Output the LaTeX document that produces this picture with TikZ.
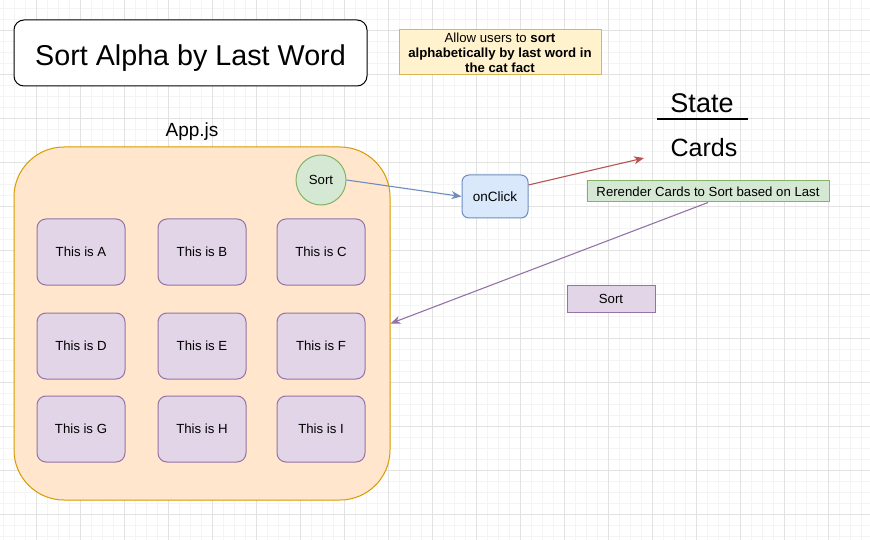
\documentclass[tikz,border=0pt]{standalone}
\usepackage{fontspec}
\setmainfont{Liberation Sans}
\usetikzlibrary{arrows.meta}
\definecolor{gmajor}{HTML}{E2E2E2}
\definecolor{gminor}{HTML}{F4F4F4}
\definecolor{noteFill}{HTML}{FFF2CC}
\definecolor{noteLine}{HTML}{D6B656}
\definecolor{orFill}{HTML}{FFE6CC}
\definecolor{orLine}{HTML}{D79B00}
\definecolor{grFill}{HTML}{D5E8D4}
\definecolor{grLine}{HTML}{82B366}
\definecolor{puFill}{HTML}{E1D5E7}
\definecolor{puLine}{HTML}{9673A6}
\definecolor{blFill}{HTML}{DAE8FC}
\definecolor{blLine}{HTML}{6C8EBF}
\definecolor{rdLine}{HTML}{B85450}
\tikzset{
  fs/.style={font=\fontsize{#1}{#1}\selectfont},
  card/.style={draw=puLine, fill=puFill, line width=1pt, rounded corners=9pt,
    minimum width=88pt, minimum height=66pt, fs=13.2},
  conn/.style={line width=1.1pt, -{Stealth[length=10pt,width=8pt,inset=3pt]}},
  minorline/.style={gminor, line width=0.8pt},
  majorline/.style={gmajor, line width=0.8pt}
}
\begin{document}
\begin{tikzpicture}[x=1pt,y=-1pt]
\useasboundingbox (0,0) rectangle (870,540);
\fill[white] (0,0) rectangle (870,540);
% grid
\foreach \i in {0,...,79} {\draw[minorline] ({3.7+11*\i},0) -- ({3.7+11*\i},540);}
\foreach \j in {0,...,49} {\draw[minorline] (0,{8.3+11*\j}) -- (870,{8.3+11*\j});}
\foreach \i in {0,...,19} {\draw[majorline] ({36.7+44*\i},0) -- ({36.7+44*\i},540);}
\foreach \j in {0,...,12} {\draw[majorline] (0,{30.3+44*\j}) -- (870,{30.3+44*\j});}

% title
\node[draw=black, fill=white, line width=1pt, rounded corners=10pt,
  minimum width=353pt, minimum height=66pt, fs=28.7, text height=24.6pt, text depth=0pt]
  (title) at (190.5,53) {Sort Alpha by Last Word};

% note
\node[draw=noteLine, fill=noteFill, line width=1pt, minimum width=202pt, minimum height=45pt,
  align=center, font=\fontsize{13.2}{15}\selectfont, inner sep=1pt] (note) at (500,52.5)
  {Allow users to \textbf{sort}\\\textbf{alphabetically by last word in}\\\textbf{the cat fact}};

% state
\node[fs=27] (state) at (702,103.5) {State};
\coordinate (ul) at (657,119);
\coordinate (ur) at (748,119);
\draw[line width=1.3pt] (ul) -- (ur);
\node[fs=25] (cards) at (704,147.5) {Cards};

% app
\node[fs=19] (applabel) at (192,131.5) {App.js};
\node[draw=orLine, fill=orFill, line width=1pt, rounded corners=50pt,
  minimum width=376pt, minimum height=353pt] (app) at (202,323.5) {};

\node[circle, draw=grLine, fill=grFill, line width=1pt, minimum size=50pt, inner sep=0pt, fs=13.2] (sortc) at (321,180) {Sort};

\node[card] (ca) at (81,252) {This is A};
\node[card] (cb) at (202,252) {This is B};
\node[card] (cc) at (321,252) {This is C};
\node[card] (cd) at (81,346) {This is D};
\node[card] (ce) at (202,346) {This is E};
\node[card] (cf) at (321,346) {This is F};
\node[card] (cg) at (81,429) {This is G};
\node[card] (ch) at (202,429) {This is H};
\node[card] (ci) at (321,429) {This is I};

% onClick
\node[draw=blLine, fill=blFill, line width=1pt, rounded corners=7pt,
  minimum width=66pt, minimum height=43pt, fs=13.5] (onclick) at (495,196.5) {onClick};

% rerender
\node[draw=grLine, fill=grFill, line width=1pt, minimum width=242pt, minimum height=21pt,
  inner sep=1pt, fs=13.2] (rerender) at (708,191.5) {Rerender Cards to Sort based on Last};

% sort rect
\node[draw=puLine, fill=puFill, line width=1pt, minimum width=88pt, minimum height=27pt,
  fs=13.2, text height=9.5pt, text depth=0pt] (sortr) at (611,298.5) {Sort};

% connectors
\coordinate (redend) at (644,158);
\draw[conn, blLine] (sortc.east) -- (onclick.west);
\draw[conn, rdLine] (onclick.19) -- (redend);
\draw[conn, puLine] (rerender.south) -- (app.east);
\end{tikzpicture}
\end{document}
